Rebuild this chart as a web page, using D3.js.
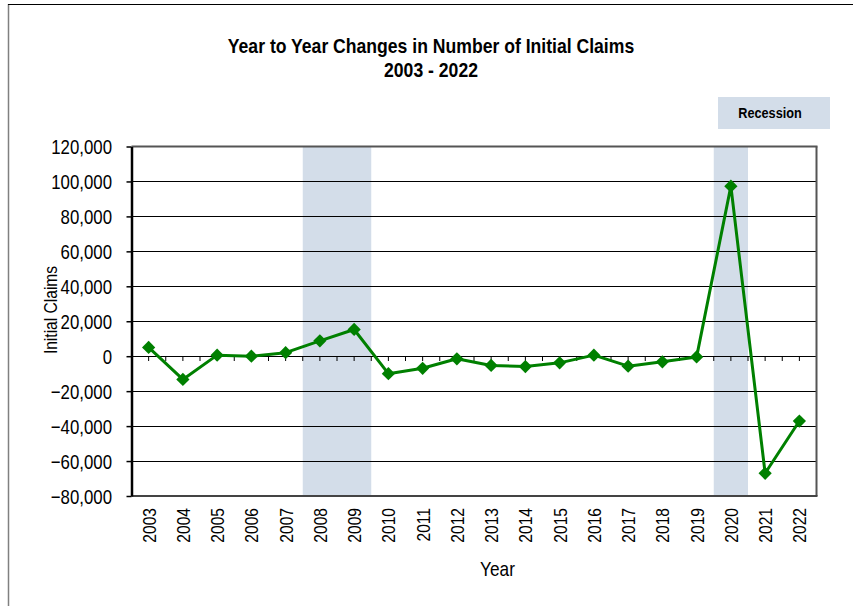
<!DOCTYPE html>
<html>
<head>
<meta charset="utf-8">
<script src="https://cdn.jsdelivr.net/npm/d3@7/dist/d3.min.js"></script>
<style>
  html, body { margin: 0; padding: 0; background: #fff; }
  svg { display: block; }
  text { font-family: "Liberation Sans Narrow", "Arial Narrow", "Liberation Sans", Arial, sans-serif; fill: #000; }
</style>
</head>
<body>
<svg id="chart" width="853" height="606"></svg>
<script>
const years = ["2003","2004","2005","2006","2007","2008","2009","2010","2011","2012",
               "2013","2014","2015","2016","2017","2018","2019","2020","2021","2022"];
const changes = [5000, -13300, 600, 0, 2000, 8800, 15300, -10000, -6900, -1500,
                 -5300, -5900, -3800, 600, -5700, -3200, -400, 97300, -67000, -37100];
const recessions = [["2008","2009"], ["2020","2020"]];
const yTicks = [-80000, -60000, -40000, -20000, 0, 20000, 40000, 60000, 80000, 100000, 120000];
const titleLines = ["Year to Year Changes in Number of Initial Claims", "2003 - 2022"];

const svg = d3.select("#chart");
const W = 853, H = 606;
const plot = { left: 131.5, right: 816.5, top: 146.5, bottom: 496 };
const NARROW = 0.82;

// helper: horizontally condensed text
function narrowText(parent, tx, ty, str, opts) {
  const g = parent.append("g")
    .attr("transform", `translate(${tx},${ty}) rotate(${opts.rotate || 0}) scale(${opts.scale || NARROW},1)`);
  return g.append("text")
    .attr("x", 0).attr("y", 0)
    .attr("text-anchor", opts.anchor || "middle")
    .style("font-size", opts.size + "px")
    .style("font-weight", opts.bold ? "bold" : "normal")
    .text(str);
}

// outer frame
svg.append("line").attr("x1", 8.5).attr("x2", 8.5).attr("y1", 4).attr("y2", H)
  .attr("stroke", "#808080").attr("stroke-width", 1.5);
svg.append("line").attr("x1", 8).attr("x2", W).attr("y1", 4.5).attr("y2", 4.5)
  .attr("stroke", "#000").attr("stroke-width", 1.2);

const x = d3.scaleBand().domain(years).range([plot.left, plot.right]).padding(0);
const y = d3.scaleLinear().domain([-80000, 120000]).range([plot.bottom, plot.top]);

const bandFill = "#d3dde9";

// recession bands
svg.append("g").selectAll("rect").data(recessions).join("rect")
  .attr("x", d => x(d[0]))
  .attr("width", d => x(d[1]) + x.bandwidth() - x(d[0]))
  .attr("y", plot.top)
  .attr("height", plot.bottom - plot.top)
  .attr("fill", bandFill);

// gridlines
svg.append("g").selectAll("line").data(yTicks.filter(t => t > -80000 && t < 120000)).join("line")
  .attr("x1", plot.left).attr("x2", plot.right)
  .attr("y1", d => Math.round(y(d)) + 0.5).attr("y2", d => Math.round(y(d)) + 0.5)
  .attr("stroke", "#000").attr("stroke-width", 1);

// zero-line tick marks (every half category)
const halfTicks = [];
years.forEach(yr => {
  halfTicks.push(x(yr));
  halfTicks.push(x(yr) + x.bandwidth() / 2);
});
halfTicks.push(plot.right);
svg.append("g").selectAll("line").data(halfTicks).join("line")
  .attr("x1", d => d).attr("x2", d => d)
  .attr("y1", Math.round(y(0)) + 0.5).attr("y2", Math.round(y(0)) + 5)
  .attr("stroke", "#000").attr("stroke-width", 1);

// plot frame: top, right, bottom
svg.append("line").attr("x1", plot.left).attr("x2", plot.right + 1).attr("y1", plot.top).attr("y2", plot.top)
  .attr("stroke", "#555").attr("stroke-width", 2);
svg.append("line").attr("x1", plot.right).attr("x2", plot.right).attr("y1", plot.top).attr("y2", plot.bottom)
  .attr("stroke", "#555").attr("stroke-width", 2);
svg.append("line").attr("x1", plot.left).attr("x2", plot.right + 1).attr("y1", plot.bottom).attr("y2", plot.bottom)
  .attr("stroke", "#444").attr("stroke-width", 2);

// y axis
const yAxis = d3.axisLeft(y).tickValues(yTicks).tickSize(5).tickSizeOuter(0)
  .tickFormat(d3.format(","));
const gy = svg.append("g").attr("transform", `translate(${plot.left},0)`).call(yAxis);
gy.select(".domain").attr("stroke", "#000").attr("stroke-width", 2.5);
gy.selectAll(".tick line").attr("stroke", "#000").attr("stroke-width", 1.5);
gy.selectAll(".tick text")
  .style("font-size", "20.5px").attr("fill", "#000")
  .style("font-family", '"Liberation Sans Narrow", "Arial Narrow", "Liberation Sans", Arial, sans-serif')
  .attr("x", 0).attr("dy", "0.35em")
  .attr("transform", `translate(-19.5,0) scale(${NARROW},1)`);

// x axis labels (rotated)
const xAxis = d3.axisBottom(x).tickSize(0).tickPadding(0);
const gx = svg.append("g").attr("transform", `translate(0,${plot.bottom})`).call(xAxis);
gx.select(".domain").remove();
gx.selectAll(".tick text")
  .style("font-size", "19px")
  .style("font-family", '"Liberation Sans Narrow", "Arial Narrow", "Liberation Sans", Arial, sans-serif')
  .attr("fill", "#000")
  .attr("text-anchor", "end")
  .attr("x", 0).attr("y", 0)
  .attr("dy", null)
  .attr("transform", `translate(7,12) rotate(-90) scale(${NARROW},1)`);

// line
const line = d3.line().x((d, i) => x(years[i]) + x.bandwidth() / 2).y(d => y(d));
svg.append("path").datum(changes).attr("d", line)
  .attr("fill", "none").attr("stroke", "#008000").attr("stroke-width", 3)
  .attr("stroke-linejoin", "round");

// diamond markers
const diamond = d3.symbol().type(d3.symbolDiamond2).size(112);
svg.append("g").selectAll("path").data(changes).join("path")
  .attr("d", diamond)
  .attr("transform", (d, i) => `translate(${x(years[i]) + x.bandwidth() / 2},${y(d)})`)
  .attr("fill", "#008000");

// title
titleLines.forEach((t, i) => {
  narrowText(svg, 431, 53 + i * 24, t, { size: 20, bold: true, scale: 0.88 });
});

// legend
svg.append("rect").attr("x", 718).attr("y", 97).attr("width", 112).attr("height", 32).attr("fill", bandFill);
narrowText(svg, 770, 117.5, "Recession", { size: 15.5, bold: true });

// axis titles
narrowText(svg, 497.5, 575.5, "Year", { size: 21 });
narrowText(svg, 57, 310, "Initial Claims", { size: 19, rotate: -90 });
</script>
</body>
</html>
